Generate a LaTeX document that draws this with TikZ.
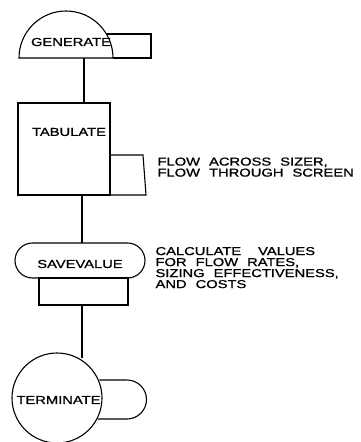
\documentclass[tikz,border=0pt]{standalone}
\usepackage{fontspec}
\newfontfamily\letterfont[FakeStretch=1.28,FakeBold=1,WordSpace=2.2]{Liberation Sans}
\usepackage{tikz}

\begin{document}
\begin{tikzpicture}[x=1pt, y=1pt, yscale=-1, line width=1.1pt,
  lbl/.style={inner sep=0pt, font=\letterfont\fontsize{11.5}{11}\selectfont},
  note/.style={lbl, anchor=north west, align=left}]
\useasboundingbox (0,0) rectangle (360,442);
\draw (19,58) arc (180:360:47) -- cycle;
\draw (106.4,34) -- (151,34) -- (151,58) -- (113,58);
\node[lbl] (generate) at (71,42) {GENERATE};
\coordinate (gen-out) at (84,58);
\draw (18,103) rectangle (110,195);
\draw (110,155) -- (143,155) -- (146,195) -- (110,195);
\node[lbl] (tabulate) at (69,132) {TABULATE};
\coordinate (tab-in) at (84,103);
\coordinate (tab-out) at (82,195);
\node[note] (tab-note) at (157,157) {FLOW ACROSS SIZER,\\FLOW THROUGH SCREEN};
\draw[rounded corners=17.5pt] (15,243) rectangle (145,278);
\draw (39,278) rectangle (128,305);
\node[lbl] (savevalue) at (80,264) {SAVEVALUE};
\coordinate (save-in) at (82,243);
\coordinate (save-out) at (82,305);
\node[note] (save-note) at (155,246.5) {CALCULATE\hspace{8pt} VALUES\\FOR FLOW RATES,\\SIZING EFFECTIVENESS,\\AND COSTS};
\draw (57,398) circle[radius=45];
\draw (99.3,380) -- (127,380) arc (-90:90:19.5) -- (97.9,419);
\node[lbl] (terminate) at (58.5,400) {TERMINATE};
\coordinate (term-in) at (82,358);
\draw (gen-out) -- (tab-in);
\draw (tab-out) -- (save-in);
\draw (save-out) -- (term-in);
\end{tikzpicture}
\end{document}
